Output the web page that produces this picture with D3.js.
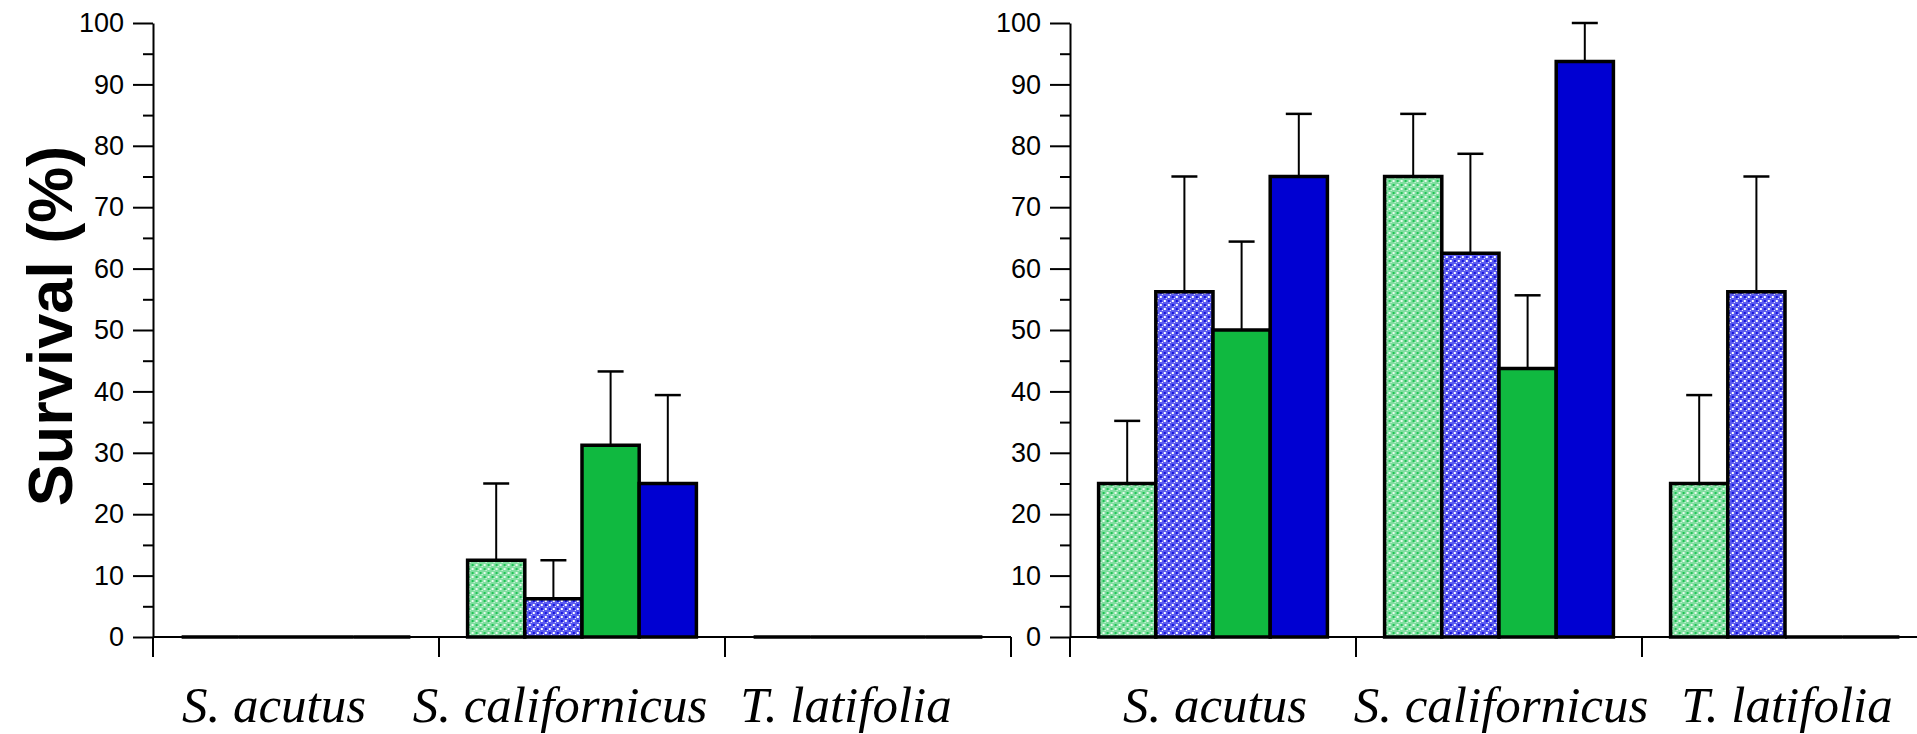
<!DOCTYPE html>
<html>
<head>
<meta charset="utf-8">
<script src="https://cdn.jsdelivr.net/npm/d3@7"></script>
<style>
  body { margin: 0; background: #fff; }
</style>
</head>
<body>
<div class="chart"></div>
<script>
// Survival data
const categories = ["S. acutus", "S. californicus", "T. latifolia"];
const treatments = ["T1", "T2", "T3", "T4"];
const yMajor = [0, 10, 20, 30, 40, 50, 60, 70, 80, 90, 100];
const yMinor = [5, 15, 25, 35, 45, 55, 65, 75, 85, 95];

// left panel: mean survival and standard error per category, per treatment
const leftMeans = [[0, 0, 0, 0], [12.5, 6.25, 31.25, 25], [0, 0, 0, 0]];
const leftSE = [[0, 0, 0, 0], [12.5, 6.25, 12, 14.4], [0, 0, 0, 0]];
// right panel
const rightMeans = [[25, 56.25, 50, 75], [75, 62.5, 43.75, 93.75], [25, 56.25, 0, 0]];
const rightSE = [[10.2, 18.75, 14.4, 10.2], [10.2, 16.2, 11.9, 6.25], [14.4, 18.75, 0, 0]];

const width = 1917, height = 734;
const fills = ["url(#dotGreen)", "url(#dotBlue)", "#10b940", "#0000d2"];

const svg = d3.select(".chart")
  .append("svg")
  .attr("width", width)
  .attr("height", height);

// dotted fill patterns
const defs = svg.append("defs");
function makePattern(id, base, dark, light) {
  const p = defs.append("pattern")
    .attr("id", id)
    .attr("width", 8)
    .attr("height", 8)
    .attr("patternUnits", "userSpaceOnUse");
  p.append("rect").attr("width", 8).attr("height", 8).attr("fill", base);
  [[0, 0], [4, 4]].forEach(d => p.append("rect").attr("x", d[0]).attr("y", d[1]).attr("width", 2).attr("height", 2).attr("fill", dark));
  [[4, 0], [0, 4]].forEach(d => p.append("rect").attr("x", d[0]).attr("y", d[1]).attr("width", 2).attr("height", 2).attr("fill", light));
  [[2, 2], [6, 6]].forEach(d => p.append("rect").attr("x", d[0]).attr("y", d[1]).attr("width", 1).attr("height", 1).attr("fill", light));
}
makePattern("dotGreen", "#80dea0", "#20c255", "#e8fbee");
makePattern("dotBlue", "#5b5bf0", "#1414dc", "#ffffff");

const y = d3.scaleLinear().domain([0, 100]).range([637, 23]);

function drawPanel(left, means, se, labelDx) {
  const g = svg.append("g");
  const bandW = 286;
  const x0 = d3.scaleBand().domain(categories).range([left, left + bandW * categories.length]);
  const x1 = d3.scaleBand().domain(treatments).range([0, x0.bandwidth()]).paddingOuter(0.5);

  // y axis, major and minor ticks
  g.append("g")
    .attr("transform", `translate(${left},0)`)
    .call(d3.axisLeft(y).tickValues(yMajor).tickSize(20).tickPadding(9).tickSizeOuter(0))
    .call(a => a.selectAll("text").style("font-family", "'Liberation Sans', Arial, sans-serif").style("font-size", "27px").attr("fill", "#000"))
    .call(a => a.selectAll("line, path").attr("stroke", "#000").attr("stroke-width", 2));
  g.append("g")
    .attr("transform", `translate(${left},0)`)
    .call(d3.axisLeft(y).tickValues(yMinor).tickSize(10).tickFormat("").tickSizeOuter(0))
    .call(a => a.select(".domain").remove())
    .call(a => a.selectAll("line").attr("stroke", "#000").attr("stroke-width", 2));

  // x axis baseline and boundary ticks
  const bounds = categories.map(c => x0(c)).concat([x0.range()[1]]);
  g.append("line")
    .attr("x1", left).attr("x2", x0.range()[1])
    .attr("y1", y(0)).attr("y2", y(0))
    .attr("stroke", "#000").attr("stroke-width", 2);
  g.selectAll(".xtick")
    .data(bounds)
    .join("line")
    .attr("class", "xtick")
    .attr("x1", d => d).attr("x2", d => d)
    .attr("y1", y(0)).attr("y2", y(0) + 20)
    .attr("stroke", "#000").attr("stroke-width", 2);

  // category labels
  g.selectAll(".cat")
    .data(categories)
    .join("text")
    .attr("class", "cat")
    .attr("x", d => x0(d) + x0.bandwidth() / 2 + labelDx)
    .attr("y", 722)
    .attr("text-anchor", "middle")
    .style("font-family", "'Liberation Serif', 'Times New Roman', serif")
    .style("font-style", "italic")
    .style("font-size", "51px")
    .text(d => d);

  const rows = [];
  categories.forEach((c, i) => treatments.forEach((t, j) => {
    rows.push({ cat: c, tr: t, j: j, v: means[i][j], e: se[i][j] });
  }));

  const groups = g.selectAll(".bar")
    .data(rows)
    .join("g")
    .attr("class", "bar")
    .attr("transform", d => `translate(${x0(d.cat) + x1(d.tr)},0)`);

  // error bars (upper only)
  groups.filter(d => d.e > 0).append("line")
    .attr("x1", x1.bandwidth() / 2).attr("x2", x1.bandwidth() / 2)
    .attr("y1", d => y(d.v)).attr("y2", d => y(d.v + d.e))
    .attr("stroke", "#000").attr("stroke-width", 2);
  groups.filter(d => d.e > 0).append("line")
    .attr("x1", x1.bandwidth() / 2 - 13).attr("x2", x1.bandwidth() / 2 + 13)
    .attr("y1", d => y(d.v + d.e)).attr("y2", d => y(d.v + d.e))
    .attr("stroke", "#000").attr("stroke-width", 2.5);

  // bars drawn as paths so zero-height bars still show as a line
  groups.append("path")
    .attr("d", d => `M0,${y(0)}H${x1.bandwidth()}V${y(d.v)}H0Z`)
    .attr("fill", d => fills[d.j])
    .attr("stroke", "#000")
    .attr("stroke-width", 3.5)
    .attr("stroke-linejoin", "miter");
}

drawPanel(153, leftMeans, leftSE, -22);
drawPanel(1070, rightMeans, rightSE, 2);

// y axis title
svg.append("text")
  .attr("transform", "translate(72,326) rotate(-90)")
  .attr("text-anchor", "middle")
  .style("font-family", "'Liberation Sans', Arial, sans-serif")
  .style("font-weight", "bold")
  .style("font-size", "63px")
  .text("Survival (%)");
</script>
</body>
</html>
